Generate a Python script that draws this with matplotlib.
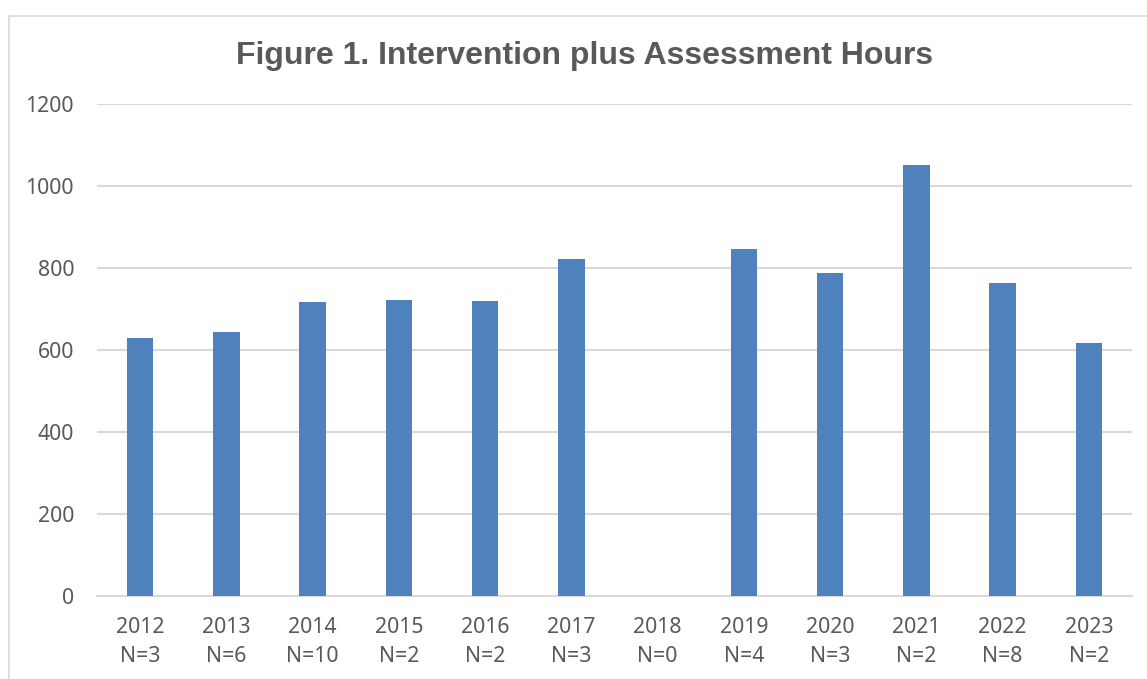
import matplotlib
matplotlib.use('agg')
from matplotlib import pyplot as plt
from matplotlib.patches import Rectangle
import numpy as np

years = ["2012", "2013", "2014", "2015", "2016", "2017", "2018", "2019", "2020", "2021", "2022", "2023"]
counts = [3, 6, 10, 2, 2, 3, 0, 4, 3, 2, 8, 2]
hours = [630, 645, 718, 723, 720, 823, 0, 847, 789, 1052, 764, 616]

labels = ["%s\nN=%d" % (y, n) for y, n in zip(years, counts)]

text_color = '#595959'
grid_color = '#d9d9d9'

fig = plt.figure(figsize=(11.47, 6.79), dpi=100)
ax = fig.add_axes([97 / 1147, 1 - 596 / 679, (1132 - 97) / 1147, (596 - 104) / 679])

x = np.arange(len(years))
ax.bar(x, hours, width=0.31, color='#4f81bd', zorder=3)

ax.set_xlim(-0.5, len(years) - 0.5)
ax.set_ylim(0, 1200)
ax.set_yticks(range(0, 1201, 200))
ax.set_xticks(x)
ax.set_xticklabels(labels, fontfamily='Noto Sans', fontsize=15.3, color=text_color,
                   linespacing=1.5)
for lab in ax.get_yticklabels():
    lab.set_fontfamily('Noto Sans')
    lab.set_fontsize(15.3)
    lab.set_color(text_color)

ax.tick_params(axis='both', length=0)
ax.tick_params(axis='x', pad=15)
ax.tick_params(axis='y', pad=16.5)
ax.yaxis.grid(True, color=grid_color, linewidth=1.5, zorder=0)
for side in ['left', 'right', 'top']:
    ax.spines[side].set_visible(False)
ax.spines['bottom'].set_color(grid_color)
ax.spines['bottom'].set_linewidth(1.5)

# chart border (cropped on right and bottom)
fig.patches.append(Rectangle((9 / 1147, -0.1), 1.2, 1 - 16 / 679 + 0.1,
                             transform=fig.transFigure, fill=False,
                             edgecolor=grid_color, linewidth=1.2))

fig.text(585 / 1147, 1 - 56 / 679, "Figure 1. Intervention plus Assessment Hours",
         ha='center', va='center', fontfamily='Liberation Sans', fontweight='bold',
         fontsize=23, color=text_color)

fig.savefig("out.png", dpi=100)
